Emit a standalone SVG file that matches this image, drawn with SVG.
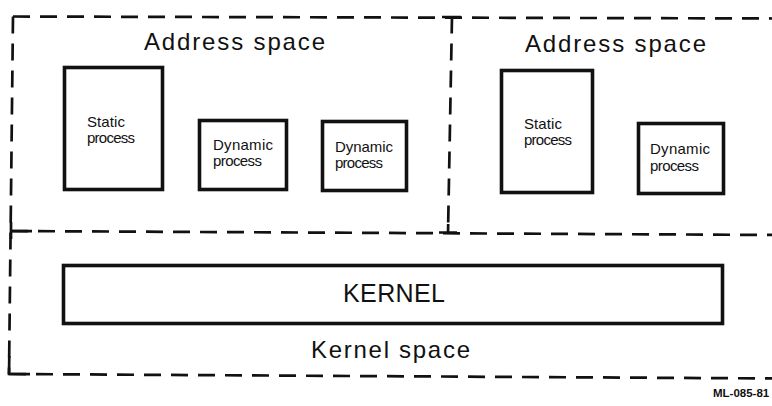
<svg xmlns="http://www.w3.org/2000/svg" width="772" height="406" viewBox="0 0 772 406">
  <style>
    .dash { fill: none; stroke: #111; stroke-width: 2.7; stroke-dasharray: 17 10; }
    .solid { fill: none; stroke: #111; stroke-width: 2.7; }
    .box { fill: #fff; stroke: #111; stroke-width: 3.6; }
    text { font-family: "Liberation Sans", Arial, Helvetica, sans-serif; fill: #111; }
    .big { font-size: 24px; }
    .kern { font-size: 25px; }
    .small { font-size: 15px; }
    .tag { font-size: 11.5px; font-weight: bold; }
  </style>
  <rect width="772" height="406" fill="#fff"/>

  <g id="regions">
    <!-- outer frame and dividers -->
    <path class="dash" d="M13,16.5 L780,18.5"/>
    <path class="dash" d="M13,16.5 L9,374"/>
    <path class="dash" d="M9,374 L780,378.5"/>
    <path class="dash" d="M11,231 L780,235"/>
    <path class="dash" d="M452,16.5 L448,233"/>
    <!-- junction marks -->
    <path class="solid" d="M442,17 L461,17.1"/>
    <path class="solid" d="M439,232.5 L457,232.6 M448.2,224 L448,233"/>
    <path class="solid" d="M11,222 L11,239 M11,231 L32,231.1"/>
    <path class="solid" d="M9.3,356 L9,374 L30,374.1"/>
  </g>

  <g id="address-space-left">
    <text class="big" x="234.5" y="50" text-anchor="middle" textLength="181" lengthAdjust="spacing">Address space</text>
  </g>
  <g id="static-process-1">
    <rect class="box" x="64.5" y="67.5" width="98" height="122"/>
    <text class="small" x="87" y="126.5" textLength="38" lengthAdjust="spacing">Static</text>
    <text class="small" x="87" y="142.5" textLength="48" lengthAdjust="spacing">process</text>
  </g>
  <g id="dynamic-process-1">
    <rect class="box" x="199.5" y="120.5" width="87" height="69"/>
    <text class="small" x="213" y="149.5" textLength="60" lengthAdjust="spacing">Dynamic</text>
    <text class="small" x="213" y="166" textLength="49" lengthAdjust="spacing">process</text>
  </g>
  <g id="dynamic-process-2">
    <rect class="box" x="322.5" y="121.5" width="84" height="69"/>
    <text class="small" x="335" y="151.5" textLength="58" lengthAdjust="spacing">Dynamic</text>
    <text class="small" x="335" y="168" textLength="48" lengthAdjust="spacing">process</text>
  </g>

  <g id="address-space-right">
    <text class="big" x="615.5" y="52" text-anchor="middle" textLength="181" lengthAdjust="spacing">Address space</text>
  </g>
  <g id="static-process-2">
    <rect class="box" x="501.5" y="70.5" width="91" height="122"/>
    <text class="small" x="524" y="128.5" textLength="38" lengthAdjust="spacing">Static</text>
    <text class="small" x="524" y="145" textLength="48" lengthAdjust="spacing">process</text>
  </g>
  <g id="dynamic-process-3">
    <rect class="box" x="638.5" y="123.5" width="85" height="70"/>
    <text class="small" x="650" y="154" textLength="60" lengthAdjust="spacing">Dynamic</text>
    <text class="small" x="650" y="170.5" textLength="49" lengthAdjust="spacing">process</text>
  </g>

  <g id="kernel">
    <rect class="box" x="63.5" y="265.5" width="659" height="58"/>
    <text class="kern" x="394" y="302" text-anchor="middle" textLength="102" lengthAdjust="spacing">KERNEL</text>
  </g>
  <g id="kernel-space">
    <text class="big" x="390.5" y="358" text-anchor="middle" textLength="159" lengthAdjust="spacing">Kernel space</text>
  </g>

  <g id="figure-tag">
    <text class="tag" x="713" y="397">ML-085-81</text>
  </g>
</svg>
